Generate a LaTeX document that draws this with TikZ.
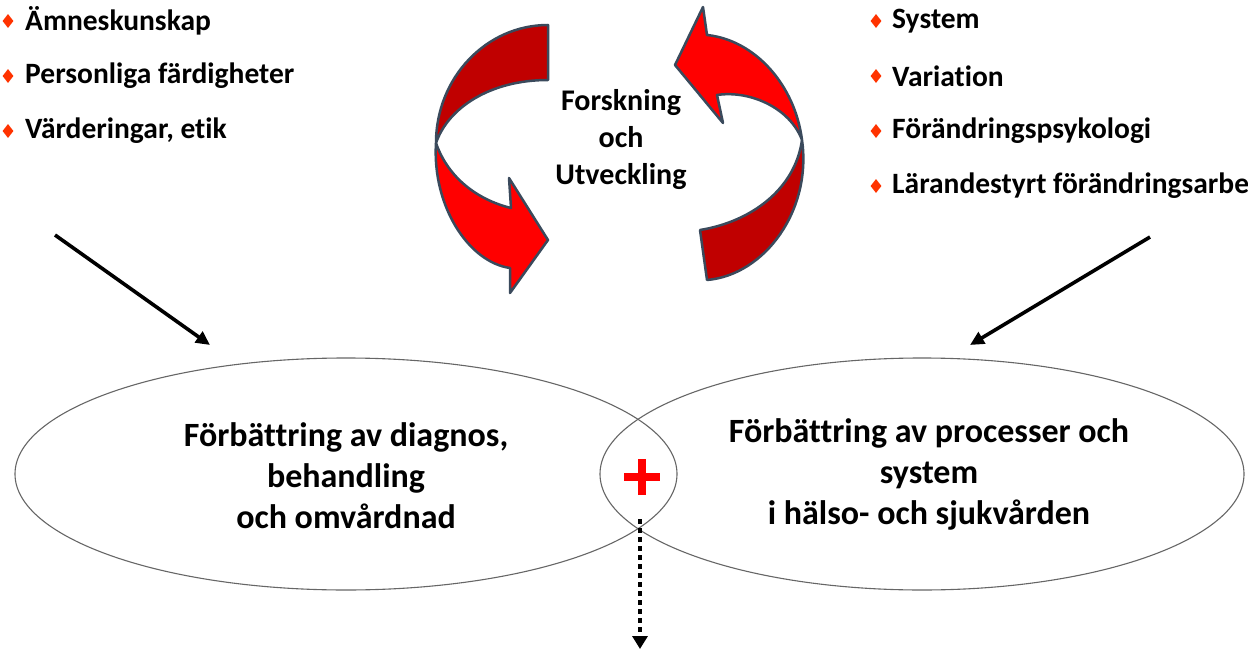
\documentclass[tikz,border=0pt]{standalone}
\usepackage{fontspec}
\setmainfont{Carlito}[Ligatures=NoCommon]
\usetikzlibrary{arrows.meta,shapes.geometric}
\definecolor{bulletred}{HTML}{FF3300}
\definecolor{darkred}{HTML}{C00000}
\definecolor{brightred}{HTML}{FF0000}
\definecolor{outline}{HTML}{3A4A5C}
\definecolor{ellgray}{HTML}{666666}
\begin{document}
\begin{tikzpicture}[x=1pt,y=-1pt,
  bigtext/.style={font=\bfseries\fontsize{34}{41}\selectfont, align=center, inner sep=0},
  itemtext/.style={font=\bfseries\fontsize{29.5}{34}\selectfont, anchor=west, inner sep=0},
  bul/.style={diamond, fill=bulletred, inner sep=0, minimum width=11, minimum height=14},
  ell/.style={ellipse, draw=ellgray, line width=1.1pt, inner sep=0},
  band/.style={draw=outline, line width=2.5pt, line join=round},
  feed/.style={line width=3.6pt, -{Triangle[length=14pt,width=13pt]}}
]
\useasboundingbox (0,0) rectangle (1248,650);

% bullet lists
\node[bul] (b1) at (8,21) {};
\node[itemtext] (t1) at (25,21) {Ämneskunskap};
\node[bul] (b2) at (8,76) {};
\node[itemtext] (t2) at (25,76) {Personliga färdigheter};
\node[bul] (b3) at (8,131) {};
\node[itemtext] (t3) at (25,131) {Värderingar, etik};

\node[bul] (r1) at (876,21) {};
\node[itemtext] (s1) at (892,21) {System};
\node[bul] (r2) at (876,76) {};
\node[itemtext] (s2) at (892,76) {Variation};
\node[bul] (r3) at (876,131) {};
\node[itemtext] (s3) at (892,131) {Förändringspsykologi};
\node[bul] (r4) at (876,186) {};
\node[itemtext] (s4) at (892,186) {Lärandestyrt förändringsarbe};

% red cycle arrows
\filldraw[band, fill=darkred] (548,25) .. controls (486,25) and (436,78) .. (436,143)
  .. controls (448,108) and (490,80) .. (548,80) -- cycle;
\filldraw[band, fill=brightred] (436,143) .. controls (432,205) and (468,262) .. (510,268)
  -- (510,293) -- (548,240) -- (509,178) -- (511,208)
  .. controls (478,200) and (448,178) .. (436,143) -- cycle;

\filldraw[band, fill=darkred] (707,280) .. controls (765,275) and (812,210) .. (802,140)
  .. controls (795,190) and (750,222) .. (700,230) -- cycle;
\filldraw[band, fill=brightred] (802,140) .. controls (795,85) and (755,40) .. (707,35)
  -- (703,7) -- (675,65) -- (723,123) -- (717,95)
  .. controls (750,90) and (790,108) .. (802,140) -- cycle;

\node[font=\bfseries\fontsize{30}{37}\selectfont, align=center, inner sep=0] (fou) at (621,140) {Forskning\\och\\Utveckling};

% ellipses
\node[ell, minimum width=662, minimum height=232] (L) at (346,474) {};
\node[ell, minimum width=644, minimum height=232] (R) at (922,474) {};
\node[bigtext] (Lt) at (346,476) {Förbättring av diagnos,\\behandling\\och omvårdnad};
\node[bigtext] (Rt) at (929,474) {Förbättring av processer och\\system\\i hälso- och sjukvården};

% plus sign
\coordinate (plus) at (642,477);
\draw[brightred, line width=8pt] ([xshift=-18pt]plus) -- ([xshift=18pt]plus)
  ([yshift=-18pt]plus) -- ([yshift=18pt]plus);

% feed arrows
\coordinate (ls) at (55,235);
\coordinate (le) at (210,345);
\coordinate (rs) at (1150,237);
\coordinate (re) at (970,345);
\draw[feed] (ls) -- (le);
\draw[feed] (rs) -- (re);

% dotted output arrow
\coordinate (meet) at (640,519);
\coordinate (out) at (640,649);
\draw[line width=4.5pt, dash pattern=on 4.5pt off 4.5pt, -{Triangle[length=13pt,width=15pt]}] (meet) -- (out);
\end{tikzpicture}
\end{document}
